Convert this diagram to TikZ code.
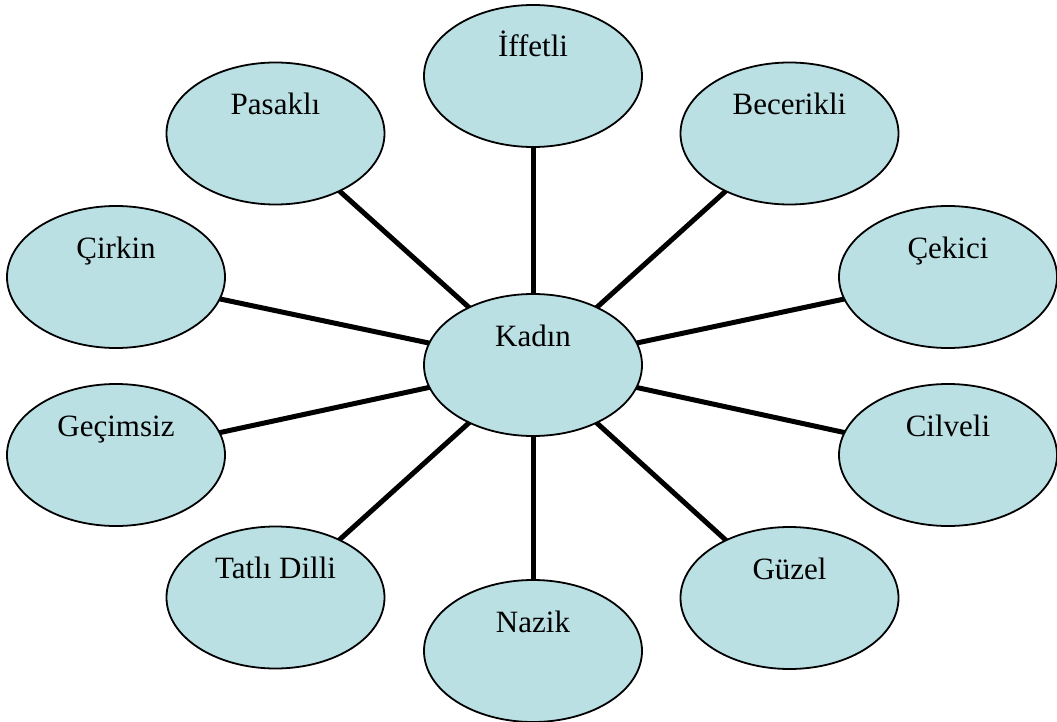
\documentclass[tikz,border=0pt]{standalone}
\usepackage{fontspec}
\setmainfont{Liberation Serif}
\usetikzlibrary{shapes.geometric,backgrounds}
\definecolor{bubble}{RGB}{186,224,228}
\tikzset{
  bubble/.style={ellipse, draw=black, line width=1.8pt, fill=bubble,
    minimum width=218pt, minimum height=142pt, inner sep=0pt},
  lbl/.style={anchor=base, inner sep=0pt, font=\fontsize{31}{37}\selectfont},
  spoke/.style={draw=black, line width=5pt}
}
\begin{document}
\begin{tikzpicture}[x=1pt,y=-1pt]
\useasboundingbox (0,0) rectangle (1057,722);
\node[bubble] (kadin) at (533,365) {};
\node[bubble] (iffetli) at (533,76) {};
\node[bubble] (pasakli) at (275.5,133.5) {};
\node[bubble] (becerikli) at (789.5,133.5) {};
\node[bubble] (cirkin) at (116,277) {};
\node[bubble] (cekici) at (948,277) {};
\node[bubble] (gecimsiz) at (116,455) {};
\node[bubble] (cilveli) at (948,455) {};
\node[bubble] (tatli) at (275.5,597.5) {};
\node[bubble] (guzel) at (789.5,598) {};
\node[bubble] (nazik) at (533,651) {};
\node[lbl] (tkadin) at ([yshift=19pt]kadin.center) {Kadın};
\node[lbl] (tiffetli) at ([yshift=19pt]iffetli.center) {İffetli};
\node[lbl] (tpasakli) at ([yshift=19pt]pasakli.center) {Pasaklı};
\node[lbl] (tbecerikli) at ([yshift=19pt]becerikli.center) {Becerikli};
\node[lbl] (tcirkin) at ([yshift=19pt]cirkin.center) {Çirkin};
\node[lbl] (tcekici) at ([yshift=19pt]cekici.center) {Çekici};
\node[lbl] (tgecimsiz) at ([yshift=19pt]gecimsiz.center) {Geçimsiz};
\node[lbl] (tcilveli) at ([yshift=19pt]cilveli.center) {Cilveli};
\node[lbl] (ttatli) at ([yshift=19pt]tatli.center) {Tatlı Dilli};
\node[lbl] (tguzel) at ([yshift=19pt]guzel.center) {Güzel};
\node[lbl] (tnazik) at ([yshift=19pt]nazik.center) {Nazik};
\begin{scope}[on background layer]
\foreach \n in {iffetli,pasakli,becerikli,cirkin,cekici,gecimsiz,cilveli,tatli,guzel,nazik}
  \draw[spoke] (kadin.center) -- (\n.center);
\end{scope}
\end{tikzpicture}
\end{document}
